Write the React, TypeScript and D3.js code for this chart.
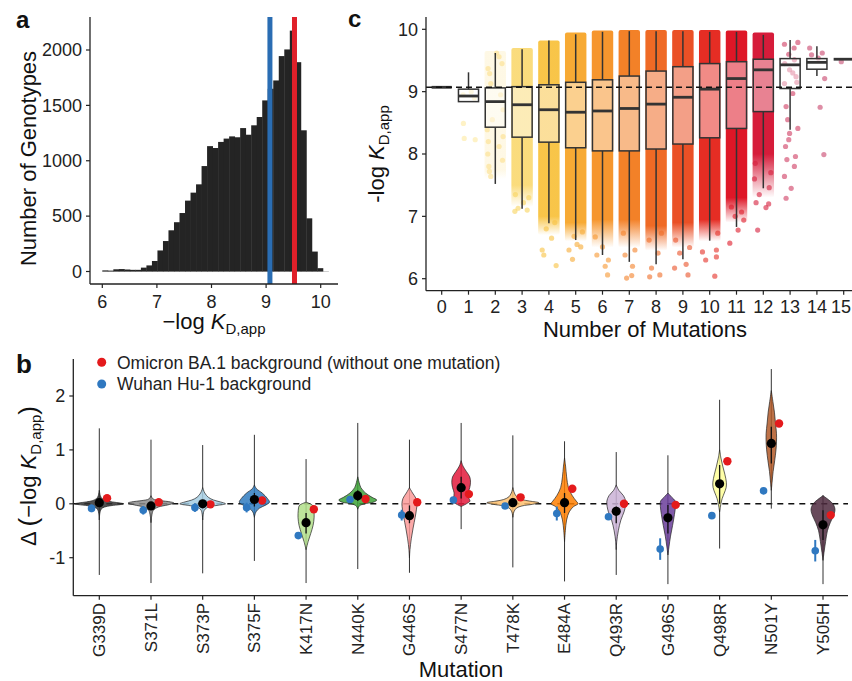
import React from 'react';
import * as d3 from 'd3';

const FONT = '"Liberation Sans", Arial, Helvetica, sans-serif';

// ---------- panel a : distribution of -log KD,app over all genotypes
const histStart = 6.0;
const histBinWidth = 0.101;
const histCounts = [
  10, 8, 20, 22, 18, 15, 15, 35, 55, 95,
  190, 275, 372, 445, 528, 640, 712, 787, 952, 1132,
  1115, 1170, 1200, 1220, 1212, 1295, 1235, 1320, 1395, 1545,
  1650, 1725, 1945, 2005, 2175, 1890, 1275, 480, 180, 30,
];
const wuhanKd = 9.07;
const omicronKd = 9.52;
const histXTicks = [6, 7, 8, 9, 10];
const histYTicks = [0, 500, 1000, 1500, 2000];

// ---------- panel c : -log KD,app by number of mutations
const mutCounts = [0, 1, 2, 3, 4, 5, 6, 7, 8, 9, 10, 11, 12, 13, 14, 15];
const boxQ1 = [9.07, 8.84, 8.43, 8.27, 8.19, 8.1, 8.05, 8.05, 8.08, 8.16, 8.26, 8.41, 8.68, 9.05, 9.36, 9.52];
const boxMedian = [9.07, 8.93, 8.84, 8.79, 8.71, 8.67, 8.69, 8.73, 8.8, 8.91, 9.04, 9.21, 9.35, 9.43, 9.47, 9.52];
const boxQ3 = [9.07, 9.04, 9.06, 9.08, 9.11, 9.15, 9.19, 9.25, 9.33, 9.4, 9.45, 9.48, 9.52, 9.53, 9.53, 9.52];
const whiskerLo = [9.07, 8.84, 7.52, 7.12, 6.89, 6.62, 6.38, 6.27, 6.23, 6.31, 6.61, 6.83, 7.45, 8.39, 9.25, 9.52];
const whiskerHi = [9.07, 9.31, 9.62, 9.68, 9.82, 9.92, 9.96, 9.97, 9.97, 9.97, 9.96, 9.96, 9.91, 9.83, 9.73, 9.52];
// dense part of each point cloud: top, bottom of solid part, bottom of fading part
const cloudHi = [9.07, 9.3, 9.65, 9.7, 9.82, 9.95, 9.98, 9.99, 9.99, 9.99, 9.99, 9.98, 9.95, 9.85, 9.7, 9.52];
const cloudDenseLo = [9.07, 9.3, 7.75, 7.5, 7.0, 6.9, 6.95, 6.95, 6.85, 6.9, 6.95, 7.3, 8.0, 9.85, 9.7, 9.52];
const cloudFadeLo = [9.07, 9.3, 7.6, 7.15, 6.7, 6.6, 6.5, 6.5, 6.45, 6.5, 6.6, 6.9, 7.3, 9.85, 9.7, 9.52];
const cloudOpacity = [0, 0, 0.22, 0.8, 0.95, 1, 1, 1, 1, 1, 1, 1, 1, 0, 0, 0];
const cloudColors = [
  '#fde9a0', '#fde9a0', '#fbe08a', '#f9d35c', '#f8c23f', '#f7aa34', '#f6962e', '#f38128',
  '#ef6a25', '#ea5026', '#e52d24', '#de1727', '#d61c3a', '#cf3a60', '#c8426a', '#c44a70',
];
// scattered single genotypes: [mutations, jitter (fraction of band), -log KD]
const cloudDots: [number, number, number][] = [
  [1, -0.19, 8.49], [1, -0.16, 8.25], [1, 0.25, 8.23], [1, 0.1, 9.0], [1, -0.2, 8.95], [1, 0.22, 8.9],
  [2, -0.27, 9.37], [2, -0.17, 9.13], [2, 0.2, 8.95], [2, 0.29, 8.71], [2, -0.3, 8.39], [2, -0.26, 8.2],
  [2, 0.29, 8.28], [2, -0.24, 7.8], [2, -0.17, 7.64], [2, 0.14, 8.12], [2, 0.14, 9.56], [2, -0.21, 9.29],
  [2, -0.11, 8.55], [2, 0.25, 9.45], [2, -0.28, 8.0], [2, 0.27, 7.9], [2, -0.22, 7.72], [2, 0.05, 9.62],
  [3, -0.27, 7.08], [3, -0.15, 7.13], [3, 0.19, 7.1], [3, -0.25, 7.35], [3, 0.25, 7.3], [3, 0.05, 7.22],
  [4, -0.25, 6.46], [4, -0.19, 6.38], [4, 0.27, 6.21], [4, 0.1, 6.65], [4, -0.1, 6.8], [4, 0.22, 6.9],
  [5, -0.12, 6.31], [5, -0.25, 6.46], [5, 0.19, 6.51], [5, -0.06, 6.68], [5, 0.25, 6.75], [5, 0.05, 6.55],
  [6, -0.21, 6.38], [6, 0.1, 6.2], [6, 0.19, 6.06], [6, 0.0, 6.51], [6, -0.27, 6.67], [6, 0.22, 6.3],
  [7, -0.16, 6.38], [7, -0.1, 6.01], [7, 0.09, 6.05], [7, 0.21, 6.46], [7, -0.22, 6.73], [7, 0.12, 6.2],
  [8, -0.24, 6.03], [8, 0.14, 6.06], [8, -0.17, 6.17], [8, 0.07, 6.41], [8, -0.26, 6.62], [8, 0.2, 6.73],
  [9, -0.27, 6.62], [9, 0.12, 6.23], [9, 0.19, 6.06], [9, -0.12, 6.41], [9, -0.31, 6.17], [9, 0.25, 6.5],
  [10, -0.27, 6.43], [10, 0.25, 6.46], [10, 0.19, 6.04], [10, -0.15, 6.3], [10, 0.3, 6.73], [10, 0.25, 6.35],
  [11, -0.25, 6.57], [11, 0.06, 6.78], [11, 0.27, 6.94], [11, -0.19, 7.15], [11, 0.19, 7.07], [11, -0.05, 7.0],
  [12, -0.21, 6.78], [12, -0.27, 7.22], [12, 0.1, 7.14], [12, 0.22, 7.46], [12, -0.15, 7.35], [12, 0.2, 7.2],
  [12, -0.33, 7.6], [12, 0.28, 7.7], [12, -0.3, 7.85],
  [13, -0.21, 9.76], [13, 0.29, 9.79], [13, -0.15, 8.76], [13, -0.09, 8.55], [13, -0.02, 8.33],
  [13, -0.17, 8.12], [13, -0.12, 7.91], [13, 0.2, 7.96], [13, 0.16, 7.8], [13, -0.21, 7.64],
  [13, 0.04, 7.45], [13, -0.15, 7.29], [13, 0.29, 8.41], [13, -0.05, 8.23], [13, 0.1, 8.97],
  [13, 0.22, 9.24], [13, -0.21, 9.13], [13, -0.02, 9.35], [13, 0.16, 9.51], [13, 0.1, 9.3],
  [13, -0.2, 9.45], [13, 0.25, 9.15], [13, -0.05, 9.6], [13, 0.15, 9.7],
  [14, -0.27, 9.7], [14, 0.05, 9.54], [14, 0.29, 9.21], [14, 0.12, 8.75], [14, 0.26, 7.99],
  [14, -0.2, 9.59], [14, 0.2, 9.62],
  [15, -0.09, 9.48],
];
const omicronLine = 9.07;

// ---------- panel b : effect of each mutation
const mutations = ['G339D', 'S371L', 'S373P', 'S375F', 'K417N', 'N440K', 'G446S', 'S477N',
  'T478K', 'E484A', 'Q493R', 'G496S', 'Q498R', 'N501Y', 'Y505H'];
const violinColors = ['#333333', '#8c8c8c', '#a6cee3', '#2f7bbf', '#b2df8a', '#3ea338', '#fb9a99',
  '#e31a3c', '#fdbf6f', '#ff7f00', '#cab2d6', '#6a3d9a', '#ffff99', '#b15928', '#4e2a3e'];
const tailHi = [1.4, 1.19, 1.09, 1.28, 0.83, 1.5, 1.19, 1.5, 1.27, 1.16, 0.96, 0.9, 1.93, 2.5, 0.16];
const tailLo = [-1.32, -1.47, -1.29, -1.06, -1.47, -1.21, -1.28, -0.47, -1.18, -1.44, -1.32, -1.49, -0.83, -0.09, -1.49];
const meanDelta = [0.02, -0.04, 0.0, 0.08, -0.35, 0.15, -0.22, 0.3, 0.02, 0.02, -0.14, -0.26, 0.37, 1.12, -0.39];
const innerLo = [-0.04, -0.08, -0.04, -0.05, -0.55, 0.05, -0.36, 0.1, -0.03, -0.17, -0.36, -0.55, 0.0, 0.75, -0.67];
const innerHi = [0.06, 0.02, 0.04, 0.2, -0.17, 0.25, -0.03, 0.5, 0.06, 0.2, -0.05, -0.02, 0.72, 1.43, -0.12];
const omicronDelta = [0.105, 0.03, -0.01, 0.06, -0.1, 0.09, 0.03, 0.18, 0.12, 0.28, 0.0, -0.02, 0.79, 1.49, -0.21];
const wuhanDelta = [-0.085, -0.12, -0.07, -0.07, -0.59, 0.08, -0.21, 0.07, -0.04, -0.18, -0.24, -0.84, -0.22, 0.24, -0.87];
const wuhanErr = [0.07, 0.08, 0.08, 0.09, 0.05, 0.04, 0.1, 0.05, 0.04, 0.13, 0.05, 0.2, 0.05, 0.05, 0.2];
// violin outlines: [delta, density] (density 1 = widest violin)
const violinShapes: [number, number][][] = [
  [[0.25, 0], [0.15, 0.04], [0.1, 0.1], [0.06, 0.25], [0.035, 0.5], [0.015, 0.8], [0.0, 0.94], [-0.015, 0.8], [-0.035, 0.45], [-0.06, 0.2], [-0.1, 0.07], [-0.18, 0.02], [-0.3, 0]],
  [[0.15, 0], [0.09, 0.08], [0.06, 0.35], [0.035, 0.75], [0.015, 0.88], [-0.02, 0.65], [-0.06, 0.28], [-0.12, 0.09], [-0.22, 0.03], [-0.35, 0]],
  [[0.3, 0], [0.2, 0.08], [0.12, 0.22], [0.07, 0.42], [0.035, 0.68], [0.0, 0.88], [-0.03, 0.55], [-0.06, 0.22], [-0.12, 0.06], [-0.3, 0]],
  [[0.35, 0], [0.28, 0.08], [0.2, 0.3], [0.1, 0.5], [0.03, 0.58], [-0.02, 0.45], [-0.08, 0.2], [-0.15, 0.06], [-0.25, 0]],
  [[0.03, 0], [-0.01, 0.2], [-0.04, 0.27], [-0.12, 0.3], [-0.25, 0.31], [-0.4, 0.27], [-0.55, 0.18], [-0.7, 0.08], [-0.85, 0]],
  [[0.5, 0], [0.4, 0.05], [0.3, 0.12], [0.2, 0.3], [0.12, 0.55], [0.07, 0.73], [0.03, 0.6], [0.0, 0.25], [-0.04, 0.06], [-0.1, 0]],
  [[0.3, 0], [0.2, 0.12], [0.1, 0.25], [0.0, 0.29], [-0.1, 0.27], [-0.25, 0.22], [-0.45, 0.14], [-0.65, 0.07], [-0.85, 0.02], [-1.0, 0]],
  [[0.8, 0], [0.7, 0.07], [0.6, 0.2], [0.5, 0.33], [0.4, 0.36], [0.3, 0.33], [0.2, 0.27], [0.1, 0.3], [0.05, 0.34], [0.0, 0.2], [-0.05, 0]],
  [[0.3, 0], [0.2, 0.06], [0.13, 0.15], [0.08, 0.35], [0.05, 0.65], [0.02, 1.0], [-0.01, 0.75], [-0.04, 0.35], [-0.08, 0.14], [-0.15, 0.04], [-0.25, 0]],
  [[0.85, 0], [0.7, 0.04], [0.5, 0.08], [0.3, 0.15], [0.15, 0.3], [0.05, 0.45], [0.0, 0.52], [-0.05, 0.35], [-0.15, 0.18], [-0.3, 0.08], [-0.5, 0.03], [-0.7, 0]],
  [[0.35, 0], [0.25, 0.1], [0.15, 0.28], [0.05, 0.36], [-0.05, 0.35], [-0.15, 0.3], [-0.3, 0.18], [-0.5, 0.08], [-0.7, 0.02], [-0.85, 0]],
  [[0.2, 0], [0.12, 0.15], [0.05, 0.28], [-0.05, 0.29], [-0.2, 0.25], [-0.4, 0.18], [-0.6, 0.1], [-0.8, 0.04], [-0.95, 0]],
  [[1.0, 0], [0.85, 0.05], [0.7, 0.12], [0.55, 0.2], [0.4, 0.26], [0.3, 0.25], [0.2, 0.18], [0.1, 0.1], [0.0, 0.05], [-0.15, 0]],
  [[2.1, 0], [1.9, 0.06], [1.7, 0.12], [1.5, 0.16], [1.3, 0.2], [1.15, 0.2], [1.0, 0.18], [0.8, 0.13], [0.6, 0.07], [0.4, 0.03], [0.25, 0]],
  [[0.15, 0], [0.08, 0.2], [0.0, 0.38], [-0.1, 0.46], [-0.2, 0.42], [-0.35, 0.28], [-0.5, 0.17], [-0.7, 0.1], [-0.9, 0.04], [-1.05, 0]],
];
const deltaTicks = [2, 1, 0, -1];

const RED = '#e41a1c';
const BLUE = '#2f78c0';
const AXIS = '#222';

function KdLabel({ minus = '\u2212', sub = 15 }: { minus?: string; sub?: number }) {
  return (
    <>
      <tspan>{minus}log </tspan>
      <tspan fontStyle="italic">K</tspan>
      <tspan fontSize={sub} dy={5}>D,app</tspan>
    </>
  );
}

function PanelA() {
  const x = d3.scaleLinear().domain([6, 10]).range([102.3, 320.7]);
  const y = d3.scaleLinear().domain([0, 2000]).range([271.5, 50]);
  const left = 90, right = 338, top = 17, bottom = 284;
  return (
    <g>
      <line x1={x(6)} x2={x(10.15)} y1={y(0)} y2={y(0)} stroke="#cfcfcf" strokeWidth={1} />
      {histCounts.map((c, i) => {
        const x0 = x(histStart + i * histBinWidth);
        const x1 = x(histStart + (i + 1) * histBinWidth);
        return <rect key={i} x={x0} y={y(c)} width={x1 - x0 + 0.4} height={y(0) - y(c)} fill="#242424" />;
      })}
      <line x1={x(wuhanKd)} x2={x(wuhanKd)} y1={top} y2={bottom} stroke="#2a6db3" strokeWidth={5} />
      <line x1={x(omicronKd)} x2={x(omicronKd)} y1={top} y2={bottom} stroke="#e0202a" strokeWidth={5} />
      <line x1={left} x2={left} y1={top} y2={bottom} stroke={AXIS} strokeWidth={1.3} />
      <line x1={left} x2={right} y1={bottom} y2={bottom} stroke={AXIS} strokeWidth={1.3} />
      {histYTicks.map(t => (
        <g key={t}>
          <line x1={left - 4} x2={left} y1={y(t)} y2={y(t)} stroke={AXIS} strokeWidth={1.2} />
          <text x={left - 8} y={y(t)} dy="0.35em" textAnchor="end" fontSize={18} fill="#222">{t}</text>
        </g>
      ))}
      {histXTicks.map(t => (
        <g key={t}>
          <line x1={x(t)} x2={x(t)} y1={bottom} y2={bottom + 4} stroke={AXIS} strokeWidth={1.2} />
          <text x={x(t)} y={308} textAnchor="middle" fontSize={18} fill="#222">{t}</text>
        </g>
      ))}
      <text x={214} y={329} textAnchor="middle" fontSize={22} fill="#111"><KdLabel /></text>
      <text transform={`translate(36,${(top + bottom) / 2 + 8}) rotate(-90)`} textAnchor="middle" fontSize={22} fill="#111">
        Number of Genotypes
      </text>
      <text x={16} y={28} fontSize={24} fontWeight="bold" fill="#111">a</text>
    </g>
  );
}

function PanelC() {
  const x = d3.scaleLinear().domain([0, 15]).range([441.7, 843.7]);
  const y = d3.scaleLinear().domain([6, 10]).range([278.7, 29.3]);
  const band = x(1) - x(0);
  const boxW = band * 0.75;
  const cloudW = band * 0.8;
  const left = 426, right = 852, top = 17, bottom = 290.7;
  return (
    <g>
      <defs>
        {mutCounts.map((n, i) => {
          const f = (y(cloudDenseLo[i]) - y(cloudHi[i])) / Math.max(1, y(cloudFadeLo[i]) - y(cloudHi[i]));
          return (
            <linearGradient key={n} id={`fade${n}`} x1="0" y1="0" x2="0" y2="1">
              <stop offset="0" stopColor={cloudColors[i]} stopOpacity={cloudOpacity[i]} />
              <stop offset={f} stopColor={cloudColors[i]} stopOpacity={cloudOpacity[i]} />
              <stop offset="1" stopColor={cloudColors[i]} stopOpacity={0} />
            </linearGradient>
          );
        })}
      </defs>
      {mutCounts.map((n, i) =>
        cloudOpacity[i] > 0 ? (
          <rect key={n} x={x(n) - cloudW / 2} y={y(cloudHi[i])} width={cloudW}
            height={y(cloudFadeLo[i]) - y(cloudHi[i])} rx={2} fill={`url(#fade${n})`} />
        ) : null
      )}
      {cloudDots.map(([n, j, v], k) => (
        <circle key={k} cx={x(n) + j * band} cy={y(v)} r={2.6} fill={cloudColors[n]} fillOpacity={0.6} />
      ))}
      {mutCounts.map((n, i) => {
        const cx = x(n);
        return (
          <g key={n} stroke="#333">
            {whiskerHi[i] > boxQ3[i] && <line x1={cx} x2={cx} y1={y(whiskerHi[i])} y2={y(boxQ3[i])} strokeWidth={1.5} />}
            {whiskerLo[i] < boxQ1[i] && <line x1={cx} x2={cx} y1={y(boxQ1[i])} y2={y(whiskerLo[i])} strokeWidth={1.5} />}
            <rect x={cx - boxW / 2} y={y(boxQ3[i])} width={boxW} height={y(boxQ1[i]) - y(boxQ3[i])}
              fill="#fff" fillOpacity={0.45} strokeWidth={1.5} />
            <line x1={cx - boxW / 2} x2={cx + boxW / 2} y1={y(boxMedian[i])} y2={y(boxMedian[i])} strokeWidth={2.8} />
          </g>
        );
      })}
      <line x1={left} x2={right} y1={y(omicronLine)} y2={y(omicronLine)} stroke="#111" strokeWidth={1.5} strokeDasharray="6 4" />
      <line x1={left} x2={left} y1={top} y2={bottom} stroke={AXIS} strokeWidth={1.3} />
      <line x1={left} x2={right} y1={bottom} y2={bottom} stroke={AXIS} strokeWidth={1.3} />
      {[6, 7, 8, 9, 10].map(t => (
        <g key={t}>
          <line x1={left - 4} x2={left} y1={y(t)} y2={y(t)} stroke={AXIS} strokeWidth={1.2} />
          <text x={left - 8} y={y(t)} dy="0.35em" textAnchor="end" fontSize={18} fill="#222">{t}</text>
        </g>
      ))}
      {mutCounts.map(n => (
        <g key={n}>
          <line x1={x(n)} x2={x(n)} y1={bottom} y2={bottom + 4} stroke={AXIS} strokeWidth={1.2} />
          <text x={Math.min(x(n), right - 11)} y={313} textAnchor="middle" fontSize={18} fill="#222">{n}</text>
        </g>
      ))}
      <text x={645} y={337} textAnchor="middle" fontSize={22} fill="#111">Number of Mutations</text>
      <text transform={`translate(384,${154}) rotate(-90)`} textAnchor="middle" fontSize={22} fill="#111"><KdLabel minus="-" /></text>
      <text x={348} y={27} fontSize={24} fontWeight="bold" fill="#111">c</text>
    </g>
  );
}

function PanelB() {
  const x = d3.scalePoint<string>().domain(mutations).range([99.3, 823]);
  const y = d3.scaleLinear().domain([-1, 2]).range([557.7, 396]);
  const w = d3.scaleLinear().domain([0, 1]).range([0, 26]);
  const band = x.step();
  const left = 73.3, right = 848, top = 359, bottom = 595.7;
  return (
    <g>
      <line x1={left} x2={right} y1={y(0)} y2={y(0)} stroke="#111" strokeWidth={1.5} strokeDasharray="6 5" />
      {mutations.map((m, i) => {
        const cx = x(m)!;
        const area = d3.area<[number, number]>()
          .y(d => y(d[0]))
          .x0(d => cx - w(d[1]))
          .x1(d => cx + w(d[1]))
          .curve(d3.curveCatmullRom.alpha(0.5));
        return (
          <g key={m}>
            <line x1={cx} x2={cx} y1={y(tailHi[i])} y2={y(tailLo[i])} stroke="#333" strokeWidth={1} />
            <path d={area(violinShapes[i]) || ''} fill={violinColors[i]} fillOpacity={0.85} stroke="#222" strokeWidth={0.7} />
            <line x1={cx} x2={cx} y1={y(innerHi[i])} y2={y(innerLo[i])} stroke="#111" strokeWidth={1.3} />
            <line x1={cx - 0.15 * band} x2={cx - 0.15 * band} y1={y(wuhanDelta[i] + wuhanErr[i])}
              y2={y(wuhanDelta[i] - wuhanErr[i])} stroke={BLUE} strokeWidth={2} />
            <circle cx={cx - 0.15 * band} cy={y(wuhanDelta[i])} r={3.8} fill={BLUE} />
            <circle cx={cx + 0.15 * band} cy={y(omicronDelta[i])} r={4.2} fill={RED} />
            <circle cx={cx} cy={y(meanDelta[i])} r={4.6} fill="#000" />
          </g>
        );
      })}
      <line x1={left} x2={left} y1={top} y2={bottom} stroke={AXIS} strokeWidth={1.3} />
      <line x1={left} x2={right} y1={bottom} y2={bottom} stroke={AXIS} strokeWidth={1.3} />
      {deltaTicks.map(t => (
        <g key={t}>
          <line x1={left - 4} x2={left} y1={y(t)} y2={y(t)} stroke={AXIS} strokeWidth={1.2} />
          <text x={left - 8} y={y(t)} dy="0.35em" textAnchor="end" fontSize={18} fill="#222">{t}</text>
        </g>
      ))}
      {mutations.map(m => (
        <g key={m}>
          <line x1={x(m)} x2={x(m)} y1={bottom} y2={bottom + 4} stroke={AXIS} strokeWidth={1.2} />
          <text transform={`translate(${x(m)},${603}) rotate(-90)`} dy="0.35em" textAnchor="end" fontSize={17} fill="#222">{m}</text>
        </g>
      ))}
      <circle cx={101.7} cy={362.3} r={4.5} fill={RED} />
      <text x={117} y={368.5} fontSize={17.5} fill="#222">Omicron BA.1 background (without one mutation)</text>
      <circle cx={101.7} cy={384} r={4.5} fill={BLUE} />
      <text x={117} y={390} fontSize={17.5} fill="#222">Wuhan Hu-1 background</text>
      <text x={461} y={677} textAnchor="middle" fontSize={22} fill="#111">Mutation</text>
      <text transform={`translate(36,${476}) rotate(-90)`} textAnchor="middle" fontSize={22} fill="#111">
        <tspan>{'\u0394 '}</tspan><tspan fontSize={26} dy={1}>(</tspan><tspan dy={-1}><KdLabel /></tspan><tspan fontSize={26} dy={-4}>)</tspan>
      </text>
      <text x={16} y={373} fontSize={26} fontWeight="bold" fill="#111">b</text>
    </g>
  );
}

export default function App() {
  return (
    <svg width={852} height={681} fontFamily={FONT}
      style={{ position: 'absolute', left: 0, top: 0, background: '#fff' }}>
      <rect width={852} height={681} fill="#fff" />
      <PanelA />
      <PanelC />
      <PanelB />
    </svg>
  );
}
